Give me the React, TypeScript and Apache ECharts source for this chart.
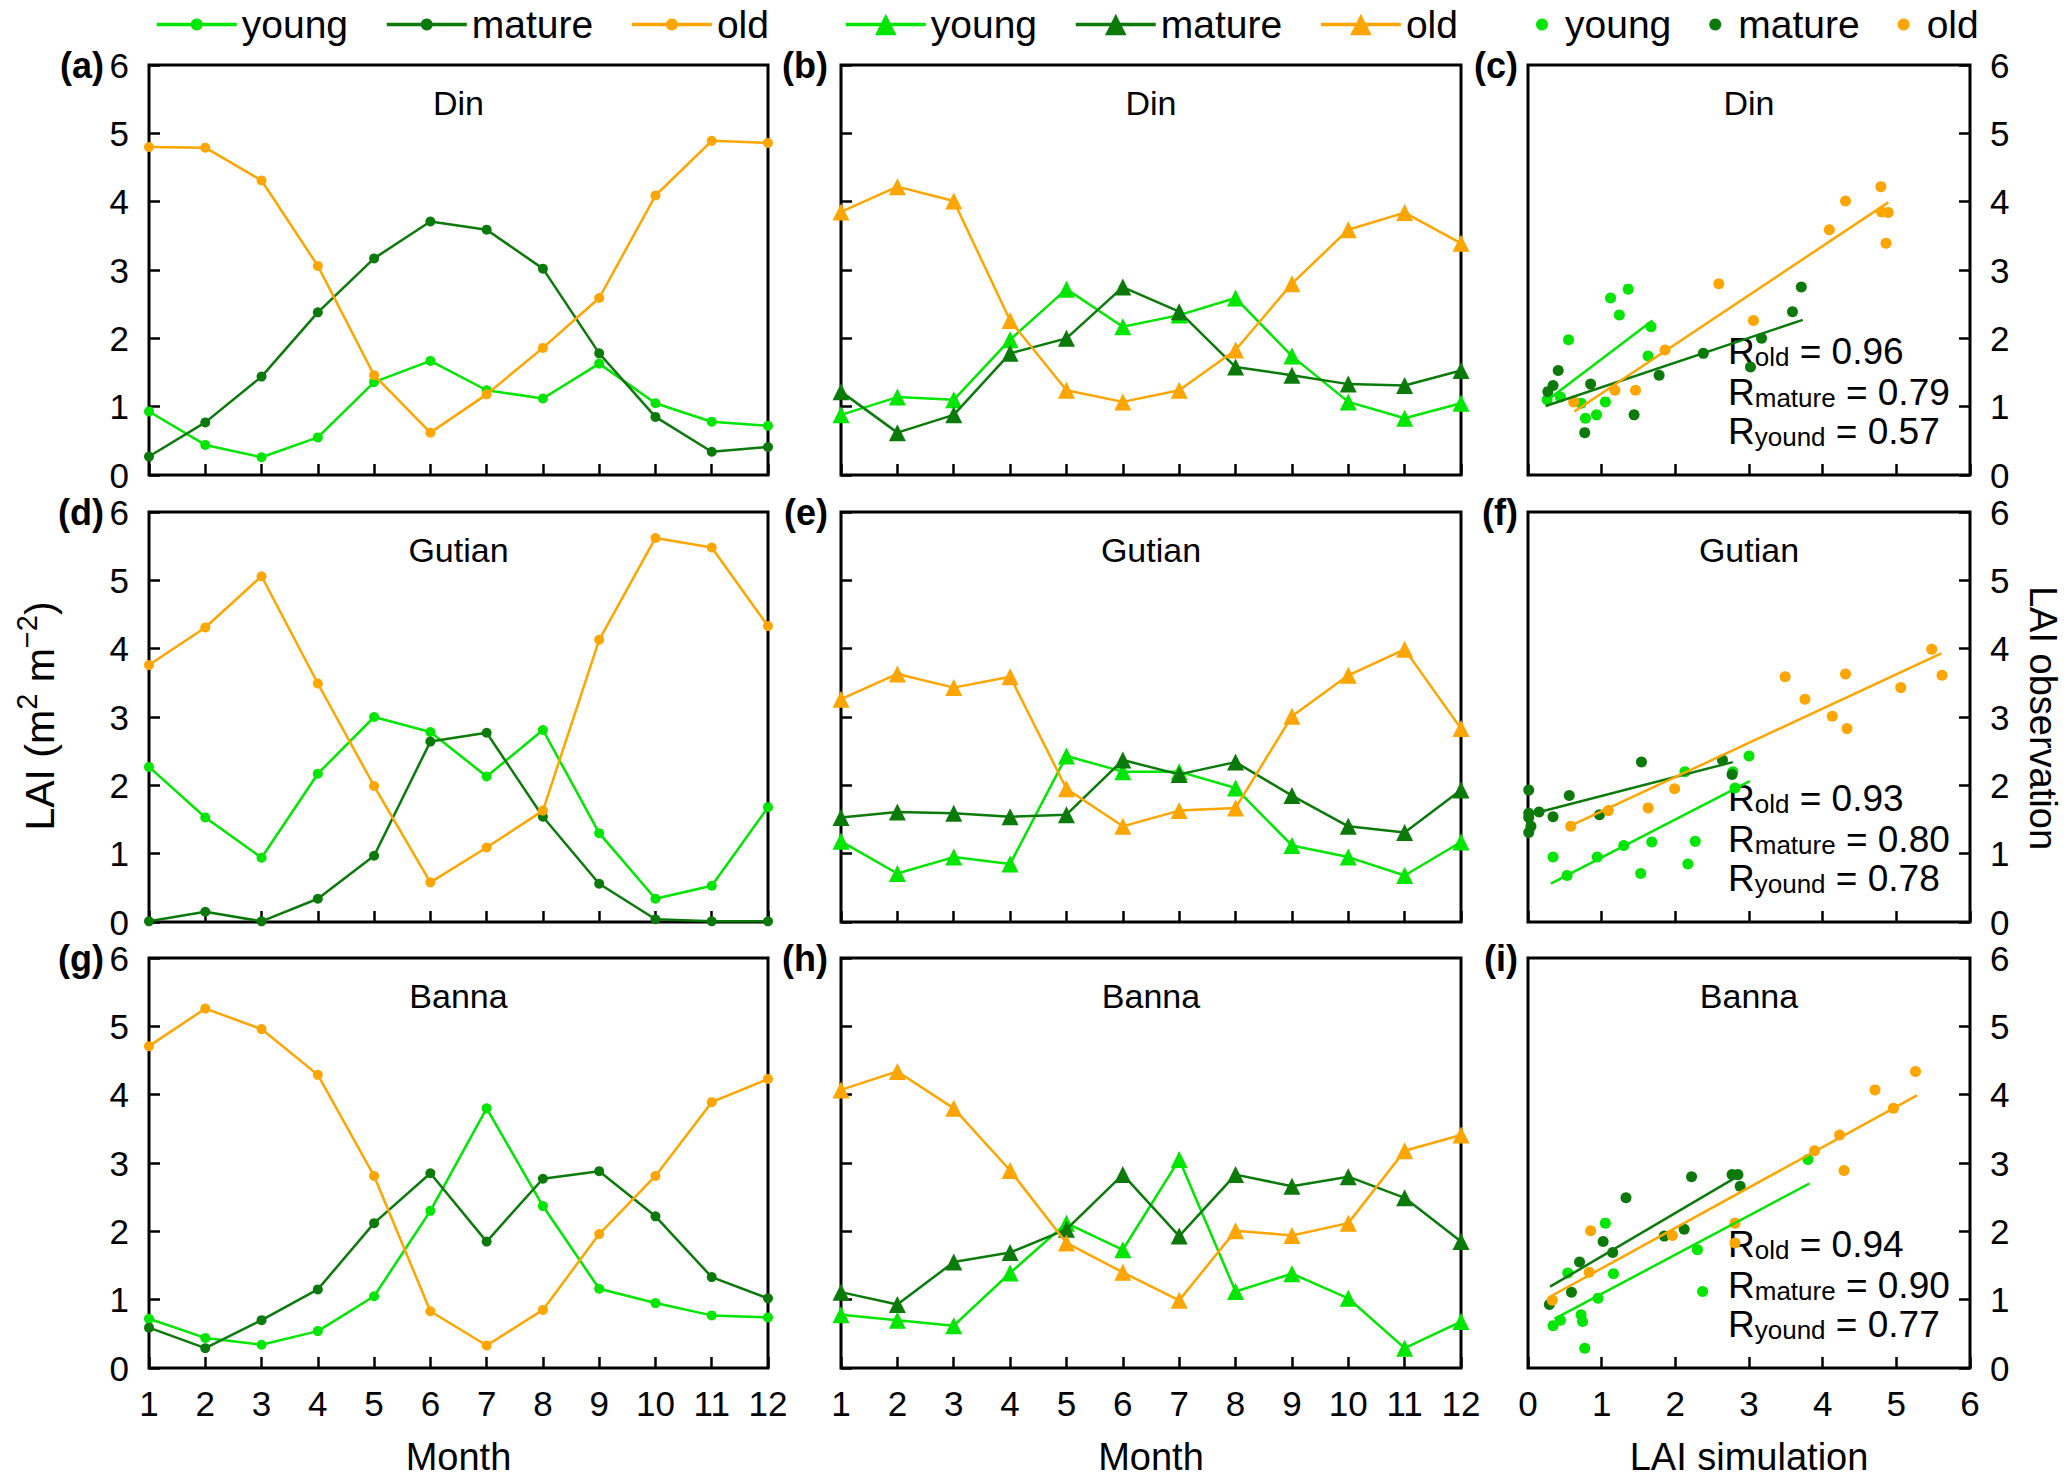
import React, { useEffect, useRef } from 'react';
import * as echarts from 'echarts';

// ---------- data ----------
const MONTHS = [1, 2, 3, 4, 5, 6, 7, 8, 9, 10, 11, 12];
const STATIONS = ['Din', 'Gutian', 'Banna'];
const PANEL_LETTERS = ['a', 'b', 'c', 'd', 'e', 'f', 'g', 'h', 'i'];
const GROUPS = ['young', 'mature', 'old'];

// Din – simulation (a) and observation (b)
const dinSimYoung = [0.93, 0.44, 0.26, 0.55, 1.36, 1.67, 1.24, 1.12, 1.63, 1.05, 0.78, 0.72];
const dinSimMature = [0.27, 0.77, 1.44, 2.38, 3.17, 3.71, 3.59, 3.02, 1.78, 0.85, 0.34, 0.41];
const dinSimOld = [4.8, 4.79, 4.31, 3.06, 1.46, 0.62, 1.18, 1.86, 2.59, 4.09, 4.89, 4.86];
const dinObsYoung = [0.88, 1.14, 1.1, 1.98, 2.72, 2.17, 2.34, 2.59, 1.74, 1.07, 0.83, 1.05];
const dinObsMature = [1.22, 0.62, 0.88, 1.78, 2.0, 2.75, 2.39, 1.58, 1.46, 1.33, 1.31, 1.53];
const dinObsOld = [3.85, 4.22, 4.01, 2.26, 1.24, 1.07, 1.24, 1.83, 2.8, 3.59, 3.84, 3.39];

// Gutian – simulation (d) and observation (e)
const gutSimYoung = [2.27, 1.53, 0.94, 2.17, 3.0, 2.78, 2.13, 2.81, 1.3, 0.34, 0.53, 1.68];
const gutSimMature = [0.01, 0.15, 0.01, 0.34, 0.97, 2.64, 2.77, 1.54, 0.56, 0.04, 0.01, 0.01];
const gutSimOld = [3.76, 4.31, 5.06, 3.49, 1.99, 0.58, 1.09, 1.63, 4.13, 5.62, 5.48, 4.33];
const gutObsYoung = [1.18, 0.71, 0.95, 0.85, 2.43, 2.2, 2.2, 1.96, 1.12, 0.95, 0.68, 1.17];
const gutObsMature = [1.53, 1.61, 1.59, 1.54, 1.57, 2.37, 2.16, 2.34, 1.85, 1.4, 1.31, 1.93];
const gutObsOld = [3.26, 3.63, 3.43, 3.59, 1.95, 1.4, 1.63, 1.67, 3.01, 3.61, 3.99, 2.83];

// Banna – simulation (g) and observation (h)
const banSimYoung = [0.72, 0.44, 0.34, 0.54, 1.05, 2.3, 3.8, 2.37, 1.16, 0.95, 0.77, 0.74];
const banSimMature = [0.59, 0.29, 0.7, 1.15, 2.12, 2.85, 1.85, 2.77, 2.88, 2.22, 1.33, 1.02];
const banSimOld = [4.71, 5.26, 4.96, 4.29, 2.81, 0.83, 0.33, 0.85, 1.96, 2.81, 3.89, 4.23];
const banObsYoung = [0.78, 0.7, 0.62, 1.39, 2.12, 1.73, 3.05, 1.12, 1.38, 1.02, 0.29, 0.68];
const banObsMature = [1.11, 0.93, 1.55, 1.69, 2.03, 2.83, 1.93, 2.83, 2.66, 2.8, 2.49, 1.85];
const banObsOld = [4.07, 4.34, 3.8, 2.89, 1.83, 1.4, 0.99, 2.01, 1.94, 2.12, 3.18, 3.41];

// regression lines (endpoints, simulation vs observation)
const dinFitYoung = [[0.27, 1.1], [1.69, 2.26]];
const dinFitMature = [[0.24, 1.01], [3.73, 2.27]];
const dinFitOld = [[0.63, 0.93], [4.89, 3.99]];
const gutFitYoung = [[0.31, 0.56], [3.01, 2.06]];
const gutFitMature = [[0.01, 1.57], [2.78, 2.34]];
const gutFitOld = [[0.58, 1.41], [5.61, 3.93]];
const banFitYoung = [[0.36, 0.72], [3.82, 2.7]];
const banFitMature = [[0.3, 1.19], [2.84, 2.8]];
const banFitOld = [[0.31, 1.05], [5.28, 3.99]];

const R_OLD = ['0.96', '0.93', '0.94'];
const R_MATURE = ['0.79', '0.80', '0.90'];
const R_YOUNG = ['0.57', '0.78', '0.77'];

// ---------- style / layout ----------
const FONT = "'Liberation Sans', Arial, Helvetica, sans-serif";
const COLORS: Record<string, string> = { young: '#00e600', mature: '#0b7a0b', old: '#ffa500' };
const COL_LEFT = [149, 841, 1528];
const COL_WIDTH = [619, 620, 442];
const ROW_TOP = [65, 512, 958];
const ROW_HEIGHT = 410;

function buildOption() {
  const sim = [
    [dinSimYoung, dinSimMature, dinSimOld],
    [gutSimYoung, gutSimMature, gutSimOld],
    [banSimYoung, banSimMature, banSimOld],
  ];
  const obs = [
    [dinObsYoung, dinObsMature, dinObsOld],
    [gutObsYoung, gutObsMature, gutObsOld],
    [banObsYoung, banObsMature, banObsOld],
  ];
  const fits = [
    [dinFitYoung, dinFitMature, dinFitOld],
    [gutFitYoung, gutFitMature, gutFitOld],
    [banFitYoung, banFitMature, banFitOld],
  ];

  const grid: any[] = [];
  const xAxis: any[] = [];
  const yAxis: any[] = [];
  const series: any[] = [];
  const graphic: any[] = [];

  const tick = { show: true, inside: true, length: 11, lineStyle: { color: '#000', width: 2.5 } };
  const label = { fontSize: 35, color: '#000', fontFamily: FONT };

  for (let r = 0; r < 3; r++) {
    for (let c = 0; c < 3; c++) {
      const idx = r * 3 + c;
      const letter = PANEL_LETTERS[idx];
      const isScatter = c === 2;
      grid.push({
        left: COL_LEFT[c],
        top: ROW_TOP[r],
        width: COL_WIDTH[c],
        height: ROW_HEIGHT,
        show: true,
        borderColor: '#000',
        borderWidth: 3,
        backgroundColor: 'transparent',
      });
      xAxis.push({
        type: 'value',
        gridIndex: idx,
        min: isScatter ? 0 : 1,
        max: isScatter ? 6 : 12,
        interval: 1,
        axisLine: { show: false, onZero: false },
        splitLine: { show: false },
        axisTick: tick,
        axisLabel: { ...label, show: r === 2, margin: 18 },
      });
      yAxis.push({
        type: 'value',
        gridIndex: idx,
        min: 0,
        max: 6,
        interval: 1,
        position: isScatter ? 'right' : 'left',
        axisLine: { show: false, onZero: false },
        splitLine: { show: false },
        axisTick: tick,
        axisLabel: { ...label, show: c !== 1, margin: 20 },
      });

      GROUPS.forEach((g, gi) => {
        const name = `${g}#${letter}`;
        const color = COLORS[g];
        if (!isScatter) {
          const arr = c === 0 ? sim[r][gi] : obs[r][gi];
          series.push({
            type: 'line',
            name,
            xAxisIndex: idx,
            yAxisIndex: idx,
            data: MONTHS.map((m, i) => [m, arr[i]]),
            symbol: c === 0 ? 'circle' : 'triangle',
            symbolSize: c === 0 ? 10 : 17,
            showSymbol: true,
            lineStyle: { color, width: 2.5 },
            itemStyle: { color },
            z: 2 + gi,
          });
        } else {
          series.push({
            type: 'scatter',
            name,
            xAxisIndex: idx,
            yAxisIndex: idx,
            data: MONTHS.map((_, i) => [sim[r][gi][i], obs[r][gi][i]]),
            symbol: 'circle',
            symbolSize: 11,
            itemStyle: { color, opacity: 1 },
            z: 2 + gi,
          });
          series.push({
            type: 'line',
            name: `${g} fit#${letter}`,
            xAxisIndex: idx,
            yAxisIndex: idx,
            data: fits[r][gi],
            symbol: 'none',
            lineStyle: { color, width: 2.5 },
            z: 5 + gi,
          });
        }
      });

      // panel letter
      const letterOffset = c === 0 ? 45 : c === 1 ? 13 : 10;
      graphic.push({
        type: 'text',
        silent: true,
        x: COL_LEFT[c] - letterOffset,
        y: ROW_TOP[r],
        style: {
          text: `(${letter})`,
          fontSize: 36,
          fontWeight: 'bold',
          fontFamily: FONT,
          fill: '#000',
          align: 'right',
          verticalAlign: 'middle',
        },
      });
      // station name
      graphic.push({
        type: 'text',
        silent: true,
        x: COL_LEFT[c] + COL_WIDTH[c] / 2,
        y: ROW_TOP[r] + 38,
        style: {
          text: STATIONS[r],
          fontSize: 34,
          fontFamily: FONT,
          fill: '#000',
          align: 'center',
          verticalAlign: 'middle',
        },
      });
      if (isScatter) {
        const rich = {
          r: { fontSize: 37, lineHeight: 44, fontFamily: FONT, fill: '#000', verticalAlign: 'bottom' },
          s: { fontSize: 26, lineHeight: 21, fontFamily: FONT, fill: '#000', verticalAlign: 'bottom' },
        };
        const texts = [
          `{r|R}{s|old}{r| = ${R_OLD[r]}}`,
          `{r|R}{s|mature}{r| = ${R_MATURE[r]}}`,
          `{r|R}{s|yound}{r| = ${R_YOUNG[r]}}`,
        ];
        const offs = [283, 324, 363];
        texts.forEach((t, ti) => {
          graphic.push({
            type: 'text',
            silent: true,
            x: 1728,
            y: ROW_TOP[r] + offs[ti],
            style: { text: t, rich, align: 'left', verticalAlign: 'middle', fontFamily: FONT, fill: '#000' },
          });
        });
      }
    }
  }

  // bottom axis names
  const bottomNames = ['Month', 'Month', 'LAI simulation'];
  bottomNames.forEach((n, c) => {
    graphic.push({
      type: 'text',
      silent: true,
      x: COL_LEFT[c] + COL_WIDTH[c] / 2,
      y: 1457,
      style: { text: n, fontSize: 38, fontFamily: FONT, fill: '#000', align: 'center', verticalAlign: 'middle' },
    });
  });
  // left y name
  graphic.push({
    type: 'text',
    silent: true,
    x: 36,
    y: 716,
    rotation: Math.PI / 2,
    style: {
      text: '{n|LAI (m}{p|2}{n| m}{p|\u22122}{n|)}',
      rich: {
        n: { fontSize: 41, lineHeight: 48, fontFamily: FONT, fill: '#000', verticalAlign: 'bottom' },
        p: { fontSize: 29, lineHeight: 30, fontFamily: FONT, fill: '#000', verticalAlign: 'top' },
      },
      align: 'center',
      verticalAlign: 'middle',
      fontFamily: FONT,
      fill: '#000',
    },
  });
  // right y name
  graphic.push({
    type: 'text',
    silent: true,
    x: 2043,
    y: 718,
    rotation: -Math.PI / 2,
    style: {
      text: 'LAI observation',
      fontSize: 38,
      fontFamily: FONT,
      fill: '#000',
      align: 'center',
      verticalAlign: 'middle',
    },
  });

  const formatter = (n: string) => n.split('#')[0];
  const legendText = { fontSize: 39, fontFamily: FONT, color: '#000' };
  const legend = [
    {
      data: GROUPS.map((g) => `${g}#a`),
      left: 155,
      top: 5,
      padding: 0,
      itemWidth: 80,
      itemHeight: 15,
      itemGap: 37,
      formatter,
      selectedMode: false,
      textStyle: legendText,
      lineStyle: { width: 3.5 },
    },
    {
      data: GROUPS.map((g) => `${g}#b`),
      left: 844,
      top: 5,
      padding: 0,
      itemWidth: 80,
      itemHeight: 27,
      itemGap: 37,
      formatter,
      selectedMode: false,
      textStyle: legendText,
      lineStyle: { width: 3.5 },
    },
    {
      data: GROUPS.map((g) => `${g}#c`),
      left: 1536,
      top: 5,
      padding: 0,
      itemWidth: 12,
      itemHeight: 12,
      itemGap: 38,
      formatter,
      selectedMode: false,
      textStyle: { ...legendText, padding: [0, 0, 0, 12] },
    },
  ];

  return {
    animation: false,
    backgroundColor: '#fff',
    textStyle: { fontFamily: FONT },
    grid,
    xAxis,
    yAxis,
    series,
    legend,
    graphic,
  };
}

export default function App() {
  const ref = useRef<HTMLDivElement>(null);
  useEffect(() => {
    if (!ref.current) return;
    const chart = echarts.init(ref.current, undefined, { renderer: 'svg' });
    chart.setOption(buildOption() as any);
    return () => chart.dispose();
  }, []);
  return (
    <div
      ref={ref}
      style={{ position: 'fixed', left: 0, top: 0, width: 2067, height: 1480, background: '#fff' }}
    />
  );
}
